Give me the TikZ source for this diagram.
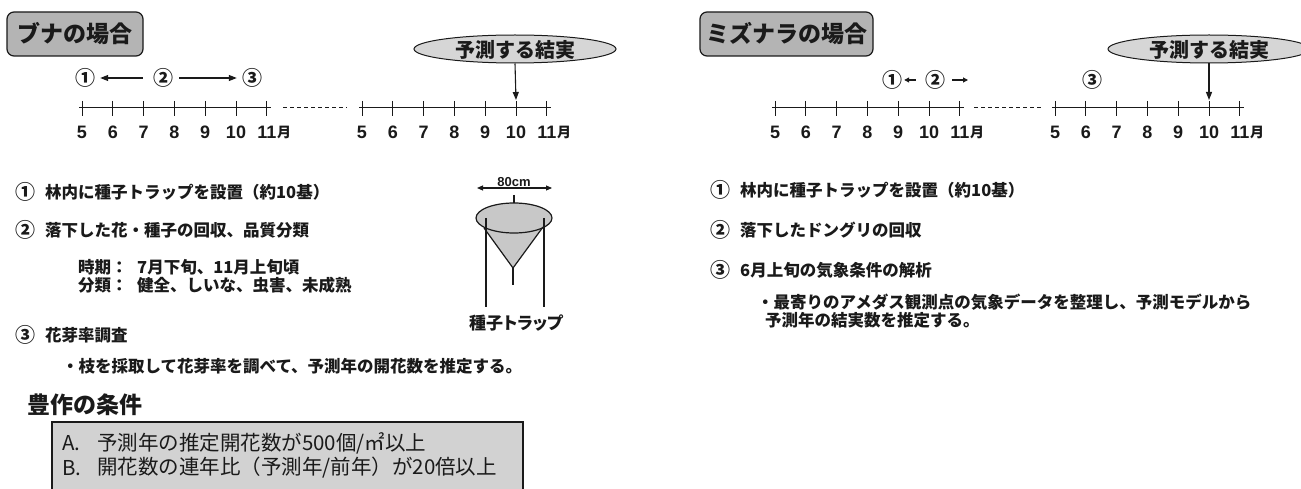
\documentclass[tikz,border=0pt]{standalone}
\usepackage{fontspec}
\setmainfont{Noto Sans CJK JP}
\newfontfamily\digitfont{Liberation Sans}
\usetikzlibrary{arrows.meta,shapes.geometric}

\newcommand\pxsize[1]{\fontsize{#1}{#1}\selectfont}

\definecolor{ink}{HTML}{1A1A1A}
\definecolor{titlegray}{HTML}{B4B4B4}
\definecolor{ovalgray}{HTML}{D6D6D6}
\definecolor{trapgray}{HTML}{C8C8C8}
\definecolor{condgray}{HTML}{D2D2D2}

\tikzset{
  every node/.style={inner sep=0pt, text=ink},
  titlebox/.style={draw=ink, line width=1.2pt, fill=titlegray,
    rounded corners=7pt, font=\pxsize{23}\bfseries},
  oval/.style={ellipse, draw=ink, line width=1pt, fill=ovalgray,
    minimum width=202pt, minimum height=28pt},
  ovaltext/.style={font=\pxsize{20}\bfseries},
  axisline/.style={draw=ink, line width=1pt},
  gapline/.style={draw=ink, line width=1pt, dash pattern=on 4pt off 3pt},
  monthnum/.style={font=\digitfont\bfseries\pxsize{18}},
  monthunit/.style={font=\pxsize{14}\bfseries},
  circnum/.style={font=\pxsize{20}\bfseries},
  arr/.style={draw=ink, line width=1.1pt, -{Triangle[length=8pt,width=6pt]}},
  smallarr/.style={draw=ink, line width=1.1pt, -{Triangle[length=5pt,width=5pt]}},
  body/.style={anchor=west, font=\pxsize{16.5}\bfseries},
  heading/.style={anchor=west, font=\pxsize{23}\bfseries},
  condtext/.style={anchor=west, font=\pxsize{20.5}},
  trapline/.style={draw=ink, line width=1.2pt},
}

% a month scale from May to November; #1 = x of May, #2 = name prefix
\newcommand\monthaxis[2]{%
  \draw[axisline] (#1-3,108) -- (#1+189,108);
  \foreach \m [count=\k from 0] in {5,6,7,8,9,10,11}{
    \coordinate (#2-\m) at ({#1+\k*30.8},100);
    \draw[axisline] ({#1+\k*30.8},101) -- ({#1+\k*30.8},116);
    \node[monthnum] (#2-lbl\m) at ({#1+\k*30.8},132) {\m};
  }
  \node[monthunit, anchor=west] (#2-unit) at ([xshift=0.5pt]#2-lbl11.east) {月};
}

\begin{document}
\begin{tikzpicture}[x=1pt, y=-1pt]
\useasboundingbox (0,0) rectangle (1301,489);
\clip (0,0) rectangle (1301,489);
\fill[white] (0,0) rectangle (1301,489);

% ---------------- ブナ ----------------
\node[titlebox, minimum width=136pt, minimum height=44pt] (bunaT) at (75,34) {ブナの場合};

\node[oval] (predL) at (515,49) {};
\node[ovaltext] (predLtxt) at (515,50) {予測する結実};

\node[circnum] (b1) at (85,78) {①};
\node[circnum] (b2) at (163,78) {②};
\node[circnum] (b3) at (252,78) {③};
\draw[arr, shorten <=10pt, shorten >=5pt] (b2.west) -- (b1.east);
\draw[arr, shorten <=6pt, shorten >=5pt] (b2.east) -- (b3.west);

\monthaxis{82}{LA}
\draw[gapline] (283,108) -- (347,108);
\monthaxis{362}{LB}
\draw[arr] (predL.south) -- (LB-10);

\node[circnum, anchor=west] (bi1) at (15,192) {①};
\node[body] (bt1) at (45,192) {林内に種子トラップを設置（約10基）};
\node[circnum, anchor=west] (bi2) at (15,230) {②};
\node[body] (bt2) at (45,230) {落下した花・種子の回収、品質分類};
\node[body] (bt2a) at (78,267) {時期：};
\node[body] (bt2b) at (137,267) {7月下旬、11月上旬頃};
\node[body] (bt2c) at (78,285) {分類：};
\node[body] (bt2d) at (137,285) {健全、しいな、虫害、未成熟};
\node[circnum, anchor=west] (bi3) at (15,335) {③};
\node[body] (bt3) at (45,335) {花芽率調査};
\node[body] (bt3a) at (62,366) {・枝を採取して花芽率を調べて、予測年の開花数を推定する。};

% seed trap
\node[font=\digitfont\bfseries\pxsize{13}] (w80) at (514,182) {80cm};
\draw[draw=ink, line width=1.1pt, {Triangle[length=6pt,width=5pt]}-{Triangle[length=6pt,width=5pt]}] (477,188) -- (552,188);
\draw[trapline] (514,195) -- (514,203);
\fill[trapgray] (514,218) ellipse [x radius=38, y radius=15];
\fill[trapgray] (484,228) -- (513,268) -- (543,227) -- cycle;
\draw[trapline] (484,228) -- (513,268) -- (543,227);
\draw[trapline] (514,218) ellipse [x radius=38, y radius=15];
\draw[trapline] (513,268) -- (513,285);
\draw[trapline] (486,218) -- (486,307);
\draw[trapline] (544,218) -- (544,307);
\node[font=\pxsize{17}\bfseries\addfontfeature{RawFeature=+palt}] (trapname) at (516,323) {種子トラップ};

% 豊作の条件
\node[heading] (cond) at (27,405) {豊作の条件};
\draw[draw=ink, line width=1.3pt, fill=condgray] (52,422) rectangle (523,500);
\node[condtext] (ca) at (62,443) {A.};
\node[condtext] (cat) at (97,443) {予測年の推定開花数が500個/㎡以上};
\node[condtext] (cb) at (62,468) {B.};
\node[condtext] (cbt) at (97,468) {開花数の連年比（予測年/前年）が20倍以上};

% ---------------- ミズナラ ----------------
\node[titlebox, minimum width=173pt, minimum height=44pt] (mizuT) at (786.5,34) {ミズナラの場合};

\node[oval] (predR) at (1209,49) {};
\node[ovaltext] (predRtxt) at (1209,50) {予測する結実};

\node[circnum] (m1) at (892,80) {①};
\node[circnum] (m2) at (935,80) {②};
\node[circnum] (m3) at (1092,80) {③};
\coordinate (m2end) at (968,80);
\draw[smallarr, shorten <=9pt, shorten >=2pt] (m2.west) -- (m1.east);
\draw[smallarr, shorten <=7pt] (m2.east) -- (m2end);

\monthaxis{775}{RA}
\draw[gapline] (974,108) -- (1041,108);
\monthaxis{1055}{RB}
\draw[arr] (predR.south) -- (RB-10);

\node[circnum, anchor=west] (mi1) at (710,190) {①};
\node[body] (mt1) at (740,190) {林内に種子トラップを設置（約10基）};
\node[circnum, anchor=west] (mi2) at (710,230) {②};
\node[body] (mt2) at (740,230) {落下したドングリの回収};
\node[circnum, anchor=west] (mi3) at (710,270) {③};
\node[body] (mt3) at (740,270) {6月上旬の気象条件の解析};
\node[body] (mt3a) at (757,302) {・最寄りのアメダス観測点の気象データを整理し、予測モデルから};
\node[body] (mt3b) at (765,320) {予測年の結実数を推定する。};
\end{tikzpicture}
\end{document}
